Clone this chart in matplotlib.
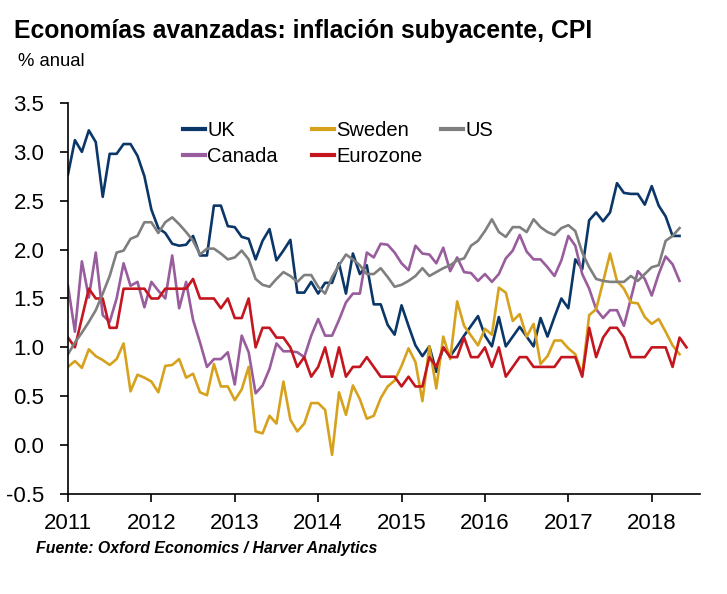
import numpy as np
import matplotlib
matplotlib.use("Agg")
import matplotlib.pyplot as plt
from matplotlib.ticker import FormatStrFormatter, MultipleLocator

plt.rcParams["font.family"] = ["Liberation Sans", "DejaVu Sans"]
plt.rcParams["axes.unicode_minus"] = False

# monthly core inflation, % y/y, starting Jan 2011
start_year = 2011
uk = [2.77, 3.12, 3.00, 3.22, 3.10, 2.54, 2.98, 2.98, 3.08, 3.08, 2.96, 2.75, 2.41, 2.22, 2.17,
      2.06, 2.04, 2.05, 2.14, 1.94, 1.94, 2.45, 2.45, 2.24, 2.23, 2.13, 2.11, 1.90, 2.09, 2.21,
      1.89, 1.99, 2.10, 1.56, 1.56, 1.67, 1.55, 1.66, 1.66, 1.86, 1.55, 1.96, 1.75, 1.84, 1.44,
      1.44, 1.23, 1.13, 1.43, 1.22, 1.02, 0.91, 1.01, 0.75, 1.00, 0.91, 1.01, 1.12, 1.22, 1.32,
      1.12, 1.01, 1.31, 1.01, 1.11, 1.21, 1.11, 1.01, 1.30, 1.11, 1.31, 1.50, 1.40, 1.90, 1.80,
      2.30, 2.38, 2.29, 2.38, 2.68, 2.58, 2.57, 2.57, 2.46, 2.65, 2.45, 2.34, 2.14, 2.14]
us = [0.93, 1.05, 1.15, 1.26, 1.38, 1.55, 1.73, 1.97, 1.99, 2.11, 2.14, 2.28, 2.28, 2.17, 2.28,
      2.33, 2.26, 2.18, 2.09, 1.95, 2.01, 2.01, 1.96, 1.90, 1.92, 1.99, 1.90, 1.70, 1.64, 1.62,
      1.70, 1.77, 1.73, 1.67, 1.74, 1.74, 1.62, 1.55, 1.72, 1.84, 1.95, 1.90, 1.84, 1.75, 1.75,
      1.81, 1.72, 1.62, 1.64, 1.68, 1.73, 1.81, 1.73, 1.77, 1.81, 1.84, 1.89, 1.91, 2.04, 2.09,
      2.19, 2.31, 2.18, 2.13, 2.23, 2.23, 2.18, 2.31, 2.23, 2.18, 2.15, 2.22, 2.25, 2.19, 1.97,
      1.82, 1.70, 1.68, 1.67, 1.67, 1.67, 1.73, 1.68, 1.75, 1.82, 1.84, 2.09, 2.14, 2.22]
canada = [1.63, 1.16, 1.88, 1.51, 1.97, 1.33, 1.26, 1.50, 1.86, 1.63, 1.67, 1.41, 1.67, 1.58, 1.50,
          1.94, 1.40, 1.67, 1.28, 1.05, 0.80, 0.88, 0.88, 0.95, 0.62, 1.12, 0.95, 0.53, 0.61, 0.78,
          1.04, 0.96, 0.96, 0.95, 0.90, 1.12, 1.29, 1.12, 1.12, 1.28, 1.46, 1.55, 1.55, 1.97, 1.92,
          2.06, 2.05, 1.97, 1.86, 1.79, 2.04, 1.96, 1.95, 1.86, 2.02, 1.78, 1.92, 1.77, 1.76, 1.68,
          1.75, 1.67, 1.75, 1.91, 1.99, 2.15, 1.98, 1.90, 1.90, 1.82, 1.73, 1.89, 2.14, 2.04, 1.75,
          1.60, 1.39, 1.30, 1.38, 1.38, 1.22, 1.50, 1.78, 1.70, 1.53, 1.75, 1.93, 1.85, 1.68]
sweden = [0.80, 0.86, 0.79, 0.98, 0.91, 0.87, 0.82, 0.88, 1.04, 0.55, 0.72, 0.69, 0.65, 0.54, 0.81,
          0.82, 0.88, 0.69, 0.73, 0.54, 0.51, 0.83, 0.60, 0.60, 0.46, 0.57, 0.80, 0.14, 0.12, 0.30,
          0.22, 0.65, 0.26, 0.14, 0.22, 0.43, 0.43, 0.36, -0.10, 0.54, 0.31, 0.61, 0.47, 0.27, 0.30,
          0.48, 0.60, 0.66, 0.81, 0.99, 0.85, 0.45, 1.01, 0.58, 1.11, 0.88, 1.47, 1.22, 1.12, 1.02,
          1.19, 1.13, 1.61, 1.56, 1.27, 1.34, 1.11, 1.24, 0.83, 0.91, 1.07, 1.07, 0.99, 0.93, 0.72,
          1.33, 1.39, 1.67, 1.96, 1.68, 1.60, 1.46, 1.45, 1.31, 1.24, 1.29, 1.16, 1.02, 0.93]
eurozone = [1.1, 1.0, 1.3, 1.6, 1.5, 1.5, 1.2, 1.2, 1.6, 1.6, 1.6, 1.6, 1.5, 1.5, 1.6,
            1.6, 1.6, 1.6, 1.7, 1.5, 1.5, 1.5, 1.4, 1.5, 1.3, 1.3, 1.5, 1.0, 1.2, 1.2,
            1.1, 1.1, 1.0, 0.8, 0.9, 0.7, 0.8, 1.0, 0.7, 1.0, 0.7, 0.8, 0.8, 0.9, 0.8,
            0.7, 0.7, 0.7, 0.6, 0.7, 0.6, 0.6, 0.9, 0.8, 1.0, 0.9, 0.9, 1.1, 0.9, 0.9,
            1.0, 0.8, 1.0, 0.7, 0.8, 0.9, 0.9, 0.8, 0.8, 0.8, 0.8, 0.9, 0.9, 0.9, 0.7,
            1.2, 0.9, 1.1, 1.2, 1.2, 1.1, 0.9, 0.9, 0.9, 1.0, 1.0, 1.0, 0.8, 1.1, 1.0]
year_ticks = [2011, 2012, 2013, 2014, 2015, 2016, 2017, 2018]

colors = {"UK": "#0b3768", "Canada": "#995c9c", "Sweden": "#d6a21e",
          "Eurozone": "#c4161f", "US": "#7f7f7f"}
series = {"UK": uk, "Canada": canada, "Sweden": sweden, "Eurozone": eurozone, "US": us}

fig = plt.figure(figsize=(7.27, 5.94), dpi=100)
ax = fig.add_axes([0.0935, 0.1684, 0.8695, 0.6582])

lines = {}
for name, vals in series.items():
    x = start_year + np.arange(len(vals)) / 12
    (ln,) = ax.plot(x, vals, color=colors[name], lw=1.9, solid_joinstyle="round")
    lines[name] = ln

ax.set_xlim(2011, 2018.58)
ax.set_ylim(-0.5, 3.5)
ax.set_xticks(year_ticks)
ax.yaxis.set_major_locator(MultipleLocator(0.5))
ax.yaxis.set_major_formatter(FormatStrFormatter("%.1f"))
for s in ("top", "right"):
    ax.spines[s].set_visible(False)
for s in ("left", "bottom"):
    ax.spines[s].set_linewidth(1.2)
ax.tick_params(axis="both", direction="out", length=6, width=1.2, labelsize=16)
ax.tick_params(axis="y", pad=11)
ax.tick_params(axis="x", pad=8)

# legend laid out in fixed-width columns
groups = [(["UK", "Canada"], 183), (["Sweden", "Eurozone"], 312), (["US"], 441)]
for names, px in groups:
    leg = fig.legend([lines[n] for n in names], names, loc="upper left",
                     bbox_to_anchor=(px / 727, 1 - 121 / 594), frameon=False,
                     fontsize=14.5, handlelength=1.1, handletextpad=0.1,
                     borderpad=0, borderaxespad=0, labelspacing=0.35)
    for h in leg.legend_handles:
        h.set_linewidth(3)

fig.text(14 / 727, 1 - 31 / 594, "Economías avanzadas: inflación subyacente, CPI",
         fontsize=17.8, fontweight="bold", va="center", ha="left")
fig.text(18 / 727, 1 - 62 / 594, "% anual", fontsize=13.3, va="center", ha="left")
fig.text(36 / 727, 1 - 549 / 594, "Fuente: Oxford Economics / Harver Analytics",
         fontsize=11.4, fontweight="bold", fontstyle="italic", va="center", ha="left")

fig.savefig("out.png", dpi=100)
